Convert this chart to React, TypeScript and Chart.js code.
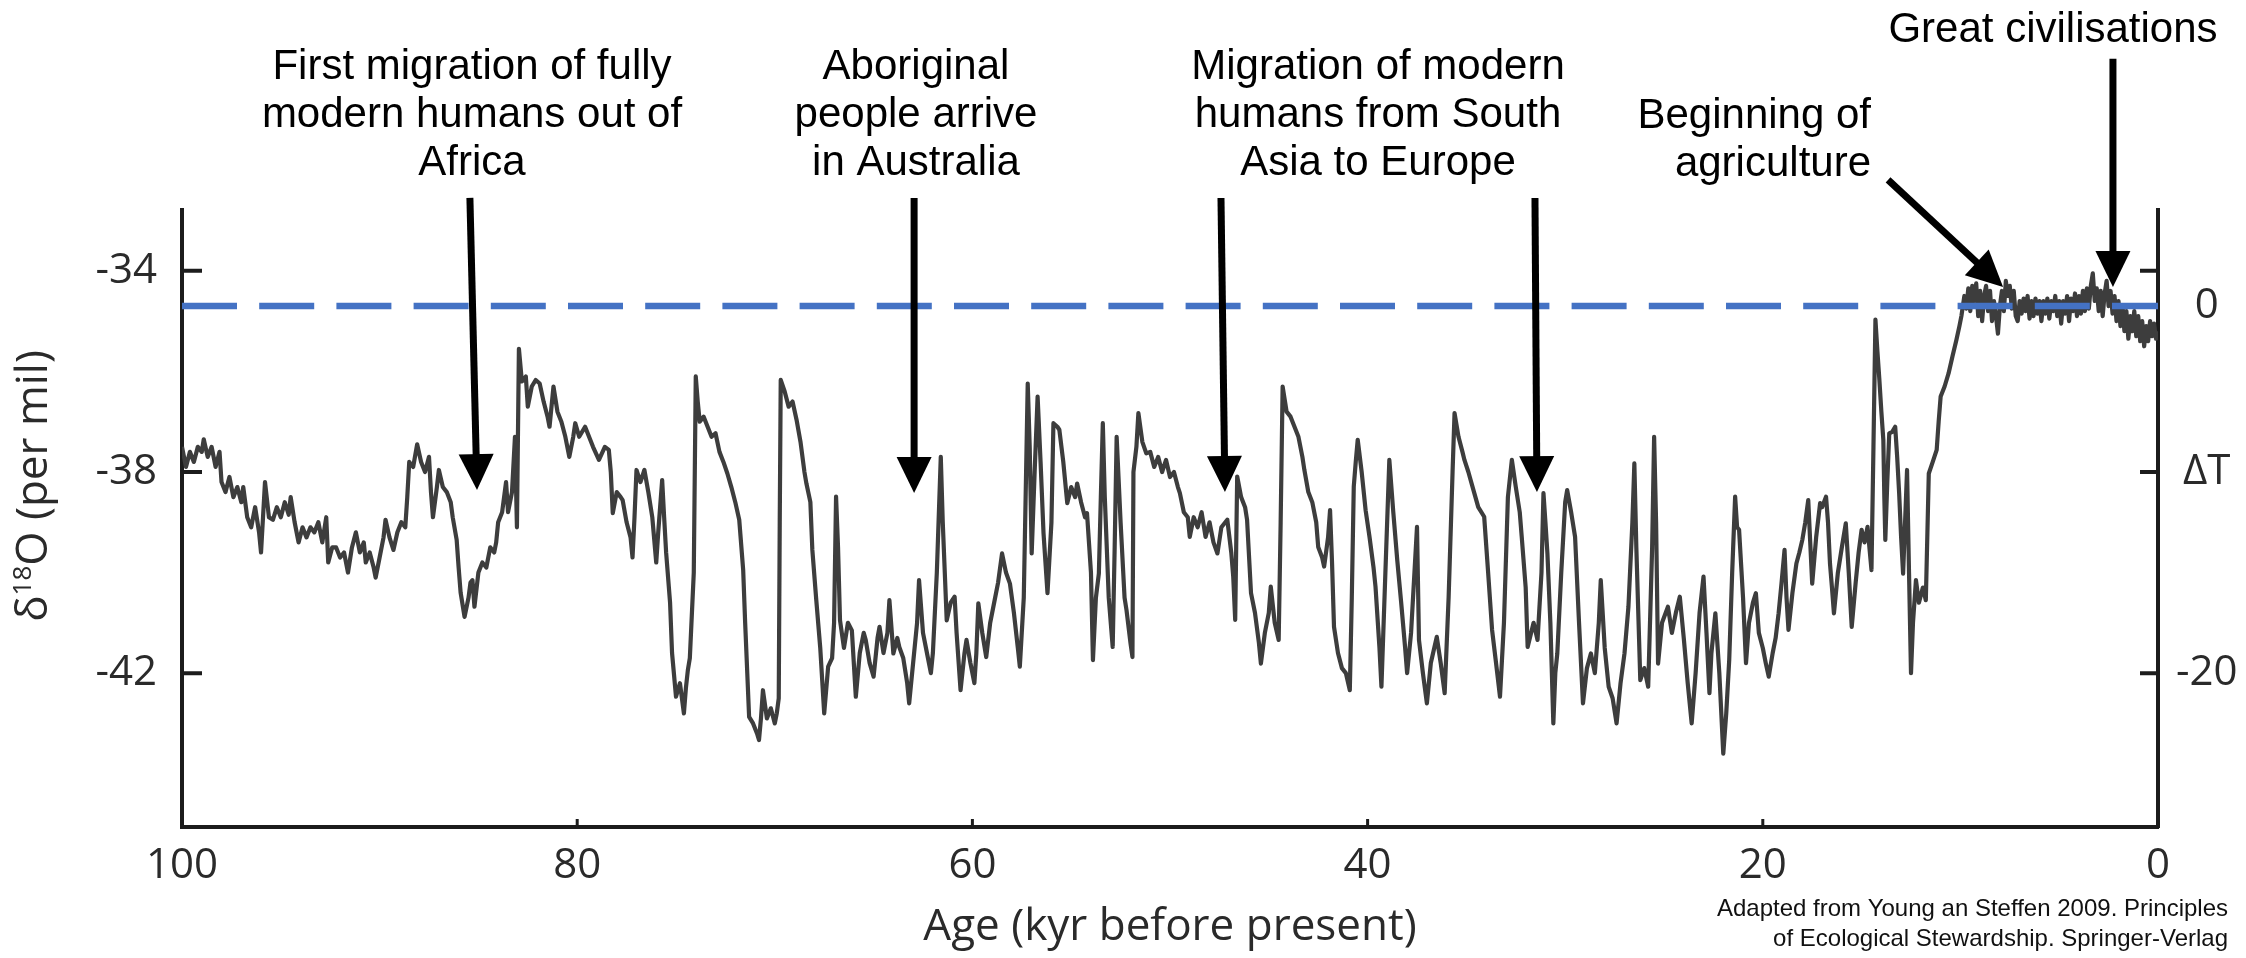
import React, { useEffect, useRef } from 'react';
import { Chart, registerables } from 'chart.js';

Chart.register(...registerables);

// ---------------- data (age in kyr before present, δ18O in per mil) ----------------
const record100to74: [number, number][] = [
  [100.0, -37.5], [99.8, -37.9], [99.6, -37.6], [99.4, -37.8], [99.2, -37.5], [99.0, -37.6],
  [98.9, -37.35], [98.7, -37.7], [98.5, -37.5], [98.3, -37.9], [98.1, -37.6], [98.0, -38.2],
  [97.8, -38.4], [97.6, -38.1], [97.4, -38.5], [97.2, -38.3], [97.0, -38.6], [96.9, -38.3],
  [96.7, -38.9], [96.5, -39.1], [96.3, -38.7], [96.1, -39.2], [96.0, -39.6], [95.9, -38.9],
  [95.8, -38.2], [95.6, -38.9], [95.4, -38.95], [95.2, -38.7], [95.0, -38.9], [94.8, -38.6],
  [94.6, -38.85], [94.5, -38.5], [94.3, -39.0], [94.1, -39.4], [93.9, -39.1], [93.7, -39.3],
  [93.5, -39.1], [93.3, -39.2], [93.1, -39.0], [92.9, -39.4], [92.7, -38.9], [92.6, -39.8],
  [92.4, -39.5], [92.2, -39.5], [92.0, -39.7], [91.8, -39.6], [91.6, -40.0], [91.4, -39.5],
  [91.2, -39.2], [91.0, -39.6], [90.8, -39.4], [90.7, -39.8], [90.5, -39.6], [90.3, -39.9],
  [90.2, -40.1], [90.0, -39.7], [89.8, -39.3], [89.7, -38.95], [89.5, -39.3], [89.3, -39.55],
  [89.1, -39.2], [88.9, -39.0], [88.7, -39.1], [88.6, -38.5], [88.5, -37.8], [88.3, -37.9],
  [88.1, -37.45], [87.9, -37.8], [87.7, -38.0], [87.5, -37.7], [87.4, -38.4], [87.3, -38.9],
  [87.1, -38.3], [87.0, -37.96], [86.8, -38.3], [86.6, -38.4], [86.4, -38.6], [86.3, -38.9],
  [86.1, -39.35], [86.0, -39.9], [85.9, -40.4], [85.7, -40.88], [85.5, -40.5], [85.4, -40.2],
  [85.3, -40.15], [85.2, -40.68], [85.0, -40.0], [84.8, -39.8], [84.6, -39.9], [84.4, -39.5],
  [84.2, -39.6], [84.1, -39.4], [84.0, -39.0], [83.8, -38.8], [83.6, -38.2], [83.5, -38.8],
  [83.3, -38.4], [83.15, -37.3], [83.05, -39.1], [82.95, -35.55], [82.8, -36.2], [82.6, -36.1],
  [82.5, -36.7], [82.3, -36.3], [82.1, -36.17], [81.9, -36.24], [81.7, -36.6], [81.5, -36.9],
  [81.4, -37.1], [81.2, -36.3], [81.0, -36.8], [80.8, -37.0], [80.6, -37.3], [80.4, -37.7],
  [80.2, -37.3], [80.1, -37.03], [79.9, -37.3], [79.6, -37.1], [79.4, -37.3], [79.2, -37.5],
  [78.9, -37.76], [78.6, -37.5], [78.4, -37.56], [78.3, -38.0], [78.2, -38.82], [78.0, -38.4],
  [77.8, -38.5], [77.7, -38.56], [77.5, -39.0], [77.3, -39.3], [77.2, -39.7], [77.1, -38.9],
  [77.0, -37.96], [76.8, -38.2], [76.6, -37.96], [76.4, -38.4], [76.2, -38.9], [76.0, -39.8],
  [75.9, -39.2], [75.7, -38.16], [75.6, -38.9], [75.5, -39.6], [75.3, -40.6], [75.2, -41.6],
  [75.0, -42.47], [74.8, -42.2], [74.6, -42.8], [74.5, -42.3], [74.4, -41.94], [74.3, -41.7],
  [74.1, -40.0], [74.0, -36.1], [73.9, -36.6], [73.8, -37.0],
];

const record74to48: [number, number][] = [
  [73.6, -36.9], [73.4, -37.1], [73.2, -37.3], [73.0, -37.23], [72.8, -37.6], [72.6, -37.8],
  [72.4, -38.03], [72.2, -38.3], [72.0, -38.6], [71.8, -38.95], [71.6, -39.95], [71.5, -41.0],
  [71.3, -42.87], [71.1, -43.0], [70.9, -43.2], [70.8, -43.33], [70.7, -42.9], [70.6, -42.34],
  [70.4, -42.9], [70.2, -42.7], [70.0, -43.0], [69.9, -42.8], [69.8, -42.5], [69.75, -39.0],
  [69.7, -36.17], [69.5, -36.4], [69.3, -36.7], [69.1, -36.6], [68.9, -36.96], [68.7, -37.4],
  [68.5, -38.0], [68.4, -38.23], [68.2, -38.6], [68.1, -39.55], [67.9, -40.55], [67.7, -41.5],
  [67.5, -42.8], [67.3, -41.87], [67.1, -41.7], [67.0, -41.0], [66.9, -38.49], [66.8, -39.5],
  [66.7, -40.95], [66.5, -41.5], [66.3, -41.0], [66.1, -41.15], [65.9, -42.47], [65.7, -41.6],
  [65.5, -41.2], [65.4, -41.34], [65.2, -41.8], [65.0, -42.07], [64.8, -41.3], [64.7, -41.08],
  [64.5, -41.6], [64.3, -41.2], [64.2, -40.55], [64.0, -41.61], [63.8, -41.3], [63.7, -41.48],
  [63.5, -41.7], [63.3, -42.2], [63.2, -42.6], [63.0, -41.8], [62.8, -41.0], [62.7, -40.15],
  [62.5, -41.2], [62.3, -41.6], [62.1, -42.0], [62.0, -41.6], [61.8, -40.0], [61.6, -37.7],
  [61.5, -39.0], [61.3, -40.95], [61.1, -40.6], [60.9, -40.48], [60.8, -41.2], [60.6, -42.34],
  [60.4, -41.6], [60.3, -41.34], [60.1, -41.8], [59.9, -42.2], [59.8, -41.6], [59.7, -40.61],
  [59.5, -41.2], [59.3, -41.68], [59.1, -41.0], [58.9, -40.6], [58.7, -40.2], [58.5, -39.62],
  [58.3, -40.0], [58.1, -40.22], [57.9, -40.8], [57.7, -41.5], [57.6, -41.87], [57.4, -40.5],
  [57.2, -36.24], [57.1, -37.5], [57.0, -39.62], [56.85, -38.0], [56.7, -36.5], [56.55, -37.8],
  [56.4, -39.22], [56.2, -40.41], [56.0, -39.0], [55.9, -37.03], [55.7, -37.1], [55.6, -37.16],
  [55.4, -37.8], [55.2, -38.62], [55.0, -38.3], [54.8, -38.5], [54.7, -38.23], [54.5, -38.6],
  [54.3, -38.9], [54.2, -38.82], [54.0, -40.0], [53.9, -41.74], [53.75, -40.5], [53.6, -40.02],
  [53.5, -38.5], [53.4, -37.03], [53.3, -38.5], [53.1, -40.5], [52.9, -41.48], [52.8, -39.5],
  [52.7, -37.3], [52.5, -39.0], [52.3, -40.5], [52.2, -40.75], [52.0, -41.4], [51.9, -41.68],
  [51.85, -38.0], [51.7, -37.5], [51.6, -36.83], [51.4, -37.4], [51.2, -37.63], [51.0, -37.6],
  [50.8, -37.9], [50.6, -37.7], [50.4, -38.0], [50.2, -37.76], [50.0, -38.1], [49.8, -38.0],
  [49.6, -38.3], [49.5, -38.42], [49.3, -38.8], [49.1, -38.9], [49.0, -39.29], [48.8, -38.9],
  [48.6, -39.1], [48.4, -38.8], [48.2, -39.29], [48.0, -39.0], [47.8, -39.4], [47.6, -39.62],
];

const record48to21: [number, number][] = [
  [47.4, -39.1], [47.2, -39.0], [47.1, -38.95], [46.9, -39.6], [46.8, -40.08], [46.7, -40.94],
  [46.65, -39.5], [46.6, -38.09], [46.4, -38.5], [46.2, -38.7], [46.1, -38.95], [45.9, -40.41],
  [45.7, -40.8], [45.5, -41.4], [45.4, -41.81], [45.2, -41.2], [45.0, -40.8], [44.9, -40.28],
  [44.7, -41.0], [44.5, -41.34], [44.4, -39.0], [44.3, -36.3], [44.1, -36.8], [43.9, -36.9],
  [43.7, -37.1], [43.5, -37.3], [43.3, -37.7], [43.2, -37.96], [43.0, -38.4], [42.8, -38.6],
  [42.6, -39.0], [42.5, -39.49], [42.3, -39.7], [42.2, -39.88], [42.0, -39.3], [41.9, -38.76],
  [41.8, -39.8], [41.7, -41.08], [41.5, -41.6], [41.3, -41.9], [41.1, -42.0], [40.9, -42.34],
  [40.8, -40.5], [40.7, -38.29], [40.6, -37.8], [40.5, -37.36], [40.3, -38.0], [40.1, -38.76],
  [39.9, -39.3], [39.7, -39.9], [39.6, -40.28], [39.4, -41.5], [39.3, -42.27], [39.1, -40.0],
  [38.9, -37.76], [38.7, -38.8], [38.5, -39.75], [38.3, -40.6], [38.1, -41.5], [38.0, -42.0],
  [37.8, -41.2], [37.5, -39.09], [37.4, -41.34], [37.2, -42.0], [37.0, -42.6], [36.8, -41.8],
  [36.5, -41.28], [36.3, -41.8], [36.1, -42.4], [35.9, -40.5], [35.7, -38.0], [35.6, -36.83],
  [35.4, -37.3], [35.2, -37.6], [35.1, -37.76], [34.9, -38.0], [34.6, -38.42], [34.4, -38.7],
  [34.1, -38.89], [33.9, -40.0], [33.7, -41.14], [33.5, -41.8], [33.3, -42.47], [33.1, -41.0],
  [32.9, -38.5], [32.7, -37.76], [32.5, -38.3], [32.3, -38.8], [32.2, -39.29], [32.0, -40.3],
  [31.9, -41.48], [31.6, -41.0], [31.4, -41.34], [31.2, -40.0], [31.1, -38.42], [31.0, -39.0],
  [30.9, -39.62], [30.75, -41.0], [30.6, -43.0], [30.5, -42.0], [30.4, -41.61], [30.2, -40.0],
  [30.0, -38.6], [29.9, -38.36], [29.7, -38.8], [29.5, -39.29], [29.3, -41.0], [29.1, -42.6],
  [28.9, -41.9], [28.7, -41.61], [28.5, -42.0], [28.3, -41.0], [28.2, -40.15], [28.0, -41.5],
  [27.8, -42.27], [27.6, -42.5], [27.4, -43.0], [27.2, -42.2], [27.0, -41.61], [26.8, -40.68],
  [26.6, -39.0], [26.5, -37.83], [26.4, -39.5], [26.2, -42.14], [26.0, -41.9], [25.8, -42.27],
  [25.6, -39.5], [25.5, -37.3], [25.4, -39.0], [25.3, -41.81], [25.1, -41.0], [24.8, -40.68],
  [24.6, -41.2], [24.4, -40.8], [24.2, -40.48], [24.0, -41.3], [23.8, -42.2], [23.6, -43.0],
  [23.4, -42.0], [23.2, -40.8], [23.0, -40.08], [22.85, -41.2], [22.7, -42.4], [22.6, -41.6],
  [22.4, -40.81], [22.2, -42.0], [22.0, -43.6], [21.85, -42.8], [21.7, -41.74], [21.55, -40.0],
  [21.4, -38.49],
];

const record21to10: [number, number][] = [
  [21.3, -39.1], [21.2, -39.15], [21.0, -40.5], [20.85, -41.8], [20.7, -41.0], [20.5, -40.6],
  [20.35, -40.41], [20.2, -41.2], [20.0, -41.5], [19.85, -41.8], [19.7, -42.07], [19.5, -41.6],
  [19.35, -41.3], [19.2, -40.81], [19.05, -40.2], [18.9, -39.55], [18.8, -40.5], [18.7, -41.14],
  [18.5, -40.4], [18.3, -39.82], [18.15, -39.6], [18.0, -39.35], [17.85, -39.0], [17.7, -38.56],
  [17.6, -39.4], [17.5, -40.22], [17.3, -39.3], [17.1, -38.62], [17.0, -38.7], [16.8, -38.49],
  [16.7, -39.0], [16.6, -39.82], [16.5, -40.3], [16.4, -40.81], [16.2, -40.0], [16.0, -39.5],
  [15.8, -39.02], [15.65, -40.0], [15.5, -41.08], [15.3, -40.2], [15.15, -39.6], [15.0, -39.15],
  [14.85, -39.4], [14.7, -39.09], [14.5, -39.95], [14.4, -37.5], [14.3, -34.97], [14.2, -35.6],
  [14.1, -36.17], [14.0, -36.8], [13.9, -37.36], [13.85, -38.5], [13.8, -39.35], [13.7, -38.2],
  [13.6, -37.23], [13.45, -37.2], [13.3, -37.1], [13.2, -37.7], [13.1, -38.42], [13.0, -39.3],
  [12.9, -40.02], [12.8, -39.0], [12.7, -37.96], [12.6, -40.0], [12.5, -42.0], [12.4, -41.0],
  [12.25, -40.15], [12.1, -40.6], [11.9, -40.3], [11.75, -40.55], [11.6, -38.03], [11.4, -37.8],
  [11.2, -37.56], [11.1, -37.0], [11.0, -36.5], [10.8, -36.3], [10.6, -36.04], [10.4, -35.7],
  [10.2, -35.37], [10.05, -35.1],
];

const holocene: [number, number][] = [
  [9.95, -34.9], [9.8, -34.5], [9.7, -34.75], [9.6, -34.35], [9.5, -34.8], [9.4, -34.3],
  [9.3, -34.6], [9.2, -34.25], [9.1, -34.9], [9.0, -34.4], [8.9, -35.0], [8.8, -34.5],
  [8.7, -34.3], [8.6, -34.8], [8.5, -34.4], [8.4, -35.0], [8.3, -34.6], [8.2, -34.9],
  [8.1, -35.25], [8.0, -34.7], [7.9, -34.4], [7.8, -34.8], [7.7, -34.2], [7.6, -34.5],
  [7.5, -34.3], [7.4, -34.75], [7.3, -34.4], [7.2, -34.9], [7.1, -35.0], [7.0, -34.6],
  [6.9, -34.85], [6.8, -34.55], [6.7, -34.8], [6.6, -34.5], [6.5, -34.95], [6.4, -34.6],
  [6.3, -34.9], [6.2, -34.55], [6.1, -34.85], [6.0, -34.6], [5.9, -35.0], [5.8, -34.6],
  [5.7, -34.85], [5.6, -34.55], [5.5, -34.95], [5.4, -34.6], [5.3, -34.8], [5.2, -34.5],
  [5.1, -34.9], [5.0, -34.6], [4.9, -35.05], [4.8, -34.6], [4.7, -34.85], [4.6, -34.5],
  [4.5, -35.0], [4.4, -34.55], [4.3, -34.8], [4.2, -34.45], [4.1, -34.9], [4.0, -34.5],
  [3.9, -34.85], [3.8, -34.4], [3.7, -34.8], [3.6, -34.35], [3.5, -34.75], [3.4, -34.3],
  [3.3, -34.05], [3.2, -34.6], [3.1, -34.35], [3.0, -34.8], [2.9, -34.4], [2.8, -34.9],
  [2.7, -34.45], [2.6, -34.2], [2.5, -34.7], [2.4, -34.4], [2.3, -34.85], [2.2, -34.5],
  [2.1, -35.0], [2.0, -34.6], [1.9, -35.1], [1.8, -34.7], [1.7, -35.2], [1.6, -34.8],
  [1.5, -35.35], [1.4, -34.9], [1.3, -35.2], [1.2, -34.8], [1.1, -35.3], [1.0, -34.9],
  [0.9, -35.4], [0.8, -35.0], [0.7, -35.5], [0.6, -35.1], [0.5, -35.4], [0.4, -35.0],
  [0.3, -35.3], [0.2, -35.05], [0.1, -35.35], [0.03, -35.2],
];

// ΔT = 0 reference level (per mil)
const zeroLevel = -34.7;

// axis ticks
const xTickValues = [100, 80, 60, 40, 20, 0];
const leftTickValues = [-34, -38, -42];
const rightTickValues = [-34, -34.7, -38, -42];
const rightTickLabels = ['', '0', 'ΔT', '-20'];

// event annotations: arrow tail / tip expressed as [age kyr, δ18O]
const eventLabels = [
  ['First migration of fully', 'modern humans out of', 'Africa'],
  ['Aboriginal', 'people arrive', 'in Australia'],
  ['Migration of modern', 'humans from South', 'Asia to Europe'],
  ['Beginning of', 'agriculture'],
  ['Great civilisations'],
];
const eventArrowFrom: [number, number][] = [
  [85.43, -32.55], [62.95, -32.55], [47.42, -32.55], [31.53, -32.55], [13.66, -32.19], [2.28, -29.78],
];
const eventArrowTo: [number, number][] = [
  [85.07, -38.36], [62.95, -38.42], [47.22, -38.4], [31.43, -38.4], [7.84, -34.32], [2.28, -34.32],
];
const creditLines = [
  'Adapted from Young an Steffen 2009. Principles',
  'of Ecological Stewardship. Springer-Verlag',
];

// ---------------- layout (pixels) ----------------
const W = 2246;
const H = 958;
const PLOT_LEFT = 182;
const PLOT_RIGHT = 2158;
const PLOT_TOP = 210;
const PLOT_BOTTOM = 827;
const TICK_FONT = 'Open Sans';
const NOTE_FONT = 'Liberation Sans';
const AXIS_COLOR = '#1c1c1c';
const TEXT_COLOR = '#2a2a2a';

// text placement for each event label block: [x, first baseline, align]
const labelLayout: [number, number, CanvasTextAlign][] = [
  [472, 79, 'center'],
  [916, 79, 'center'],
  [1378, 79, 'center'],
  [1871, 128, 'right'],
  [2053, 42, 'center'],
];

function drawArrow(ctx: CanvasRenderingContext2D, x0: number, y0: number, x1: number, y1: number) {
  const headLen = 36;
  const headW = 35;
  const ang = Math.atan2(y1 - y0, x1 - x0);
  const bx = x1 - headLen * Math.cos(ang);
  const by = y1 - headLen * Math.sin(ang);
  ctx.beginPath();
  ctx.moveTo(x0, y0);
  ctx.lineTo(bx + 2 * Math.cos(ang), by + 2 * Math.sin(ang));
  ctx.lineWidth = 7;
  ctx.lineCap = 'butt';
  ctx.stroke();
  ctx.beginPath();
  ctx.moveTo(x1, y1);
  ctx.lineTo(bx + (headW / 2) * Math.sin(ang), by - (headW / 2) * Math.cos(ang));
  ctx.lineTo(bx - (headW / 2) * Math.sin(ang), by + (headW / 2) * Math.cos(ang));
  ctx.closePath();
  ctx.fill();
}

const overlayPlugin = {
  id: 'overlay',
  afterDraw(chart: any) {
    const ctx: CanvasRenderingContext2D = chart.ctx;
    const xs = chart.scales.x;
    const ys = chart.scales.y;
    const area = chart.chartArea;
    ctx.save();

    // inward tick marks
    ctx.strokeStyle = AXIS_COLOR;
    ctx.lineWidth = 4;
    ys.ticks.forEach((t: any) => {
      const py = ys.getPixelForValue(t.value);
      ctx.beginPath();
      ctx.moveTo(area.left, py);
      ctx.lineTo(area.left + 20, py);
      ctx.moveTo(area.right, py);
      ctx.lineTo(area.right - 18, py);
      ctx.stroke();
    });
    ctx.lineWidth = 3;
    xs.ticks.forEach((t: any) => {
      const px = xs.getPixelForValue(t.value);
      if (px > area.left + 4 && px < area.right - 4) {
        ctx.beginPath();
        ctx.moveTo(px, area.bottom);
        ctx.lineTo(px, area.bottom - 8);
        ctx.stroke();
      }
    });

    // arrows
    ctx.strokeStyle = '#000';
    ctx.fillStyle = '#000';
    eventArrowFrom.forEach((from, i) => {
      const to = eventArrowTo[i];
      drawArrow(
        ctx,
        xs.getPixelForValue(from[0]), ys.getPixelForValue(from[1]),
        xs.getPixelForValue(to[0]), ys.getPixelForValue(to[1]),
      );
    });

    // event labels
    ctx.font = `42px "${NOTE_FONT}"`;
    ctx.textBaseline = 'alphabetic';
    ctx.fillStyle = '#000';
    eventLabels.forEach((lines, i) => {
      const [lx, ly, align] = labelLayout[i];
      ctx.textAlign = align;
      lines.forEach((line, j) => ctx.fillText(line, lx, ly + j * 48));
    });

    // credit
    ctx.font = `24px "${NOTE_FONT}"`;
    ctx.textAlign = 'right';
    ctx.fillStyle = '#111';
    creditLines.forEach((line, j) => ctx.fillText(line, 2228, 916 + j * 30));

    // y-axis title: δ18O (per mil), rotated
    const f = 44;
    const parts: [string, number, number][] = [
      ['δ', f, 0],
      ['18', Math.round(f * 0.6), -f * 0.36],
      ['O (per mil)', f, 0],
    ];
    ctx.translate(47, 486);
    ctx.rotate(-Math.PI / 2);
    ctx.fillStyle = TEXT_COLOR;
    ctx.textAlign = 'left';
    let total = 0;
    const widths = parts.map(([s, size]) => {
      ctx.font = `${size}px "${TICK_FONT}"`;
      const w = ctx.measureText(s).width;
      total += w;
      return w;
    });
    let cx = -total / 2;
    parts.forEach(([s, size, dy], k) => {
      ctx.font = `${size}px "${TICK_FONT}"`;
      ctx.fillText(s, cx, dy);
      cx += widths[k];
    });
    ctx.restore();
  },
};

export default function App() {
  const canvasRef = useRef<HTMLCanvasElement | null>(null);

  useEffect(() => {
    document.body.style.margin = '0';
    let chart: Chart | null = null;
    let cancelled = false;

    const series = [...record100to74, ...record74to48, ...record48to21, ...record21to10, ...holocene].map(
      ([age, v]) => ({ x: age, y: v }),
    );
    const zeroLine = [
      { x: 100, y: zeroLevel },
      { x: 0, y: zeroLevel },
    ];

    const make = () => {
      if (cancelled || !canvasRef.current) return;
      chart = new Chart(canvasRef.current, {
        type: 'line',
        data: {
          datasets: [
            {
              label: 'ΔT = 0',
              data: zeroLine,
              borderColor: '#4472C4',
              borderWidth: 6.5,
              borderDash: [55, 22.2],
              pointRadius: 0,
              order: 0,
              yAxisID: 'y',
            },
            {
              label: 'δ18O',
              data: series,
              borderColor: '#3d3d3d',
              borderWidth: 4.2,
              borderJoinStyle: 'round',
              pointRadius: 0,
              tension: 0,
              order: 1,
              yAxisID: 'y',
            },
            {
              label: 'reference',
              data: zeroLine,
              borderColor: '#a9a9a9',
              borderWidth: 4,
              borderDash: [30, 47],
              borderDashOffset: -12,
              pointRadius: 0,
              order: 2,
              yAxisID: 'y',
            },
          ],
        },
        options: {
          responsive: false,
          animation: false,
          devicePixelRatio: 1,
          layout: { padding: { top: PLOT_TOP, left: 0, right: 0, bottom: 0 } },
          plugins: {
            legend: { display: false },
            tooltip: { enabled: false },
          },
          scales: {
            x: {
              type: 'linear',
              position: 'bottom',
              reverse: true,
              min: 0,
              max: 100,
              afterBuildTicks: (s: any) => {
                s.ticks = xTickValues.map((v) => ({ value: v }));
              },
              afterFit: (s: any) => {
                s.height = H - PLOT_BOTTOM;
              },
              ticks: {
                font: { family: TICK_FONT, size: 42 },
                color: TEXT_COLOR,
                padding: 14,
                maxRotation: 0,
                autoSkip: false,
                callback: (v: any) => String(v),
              },
              grid: { display: false, drawTicks: false },
              border: { display: true, color: AXIS_COLOR, width: 4 },
              title: {
                display: true,
                text: 'Age (kyr before present)',
                font: { family: TICK_FONT, size: 44 },
                color: TEXT_COLOR,
                padding: { top: 0, bottom: 4 },
              },
            },
            y: {
              type: 'linear',
              position: 'left',
              min: -45.06,
              max: -32.79,
              afterBuildTicks: (s: any) => {
                s.ticks = leftTickValues.map((v) => ({ value: v }));
              },
              afterFit: (s: any) => {
                s.width = PLOT_LEFT;
              },
              ticks: {
                font: { family: TICK_FONT, size: 42 },
                color: TEXT_COLOR,
                padding: 25,
                autoSkip: false,
                callback: (v: any) => String(v),
              },
              grid: { display: false, drawTicks: false },
              border: { display: true, color: AXIS_COLOR, width: 4 },
            },
            y2: {
              type: 'linear',
              position: 'right',
              min: -45.06,
              max: -32.79,
              afterBuildTicks: (s: any) => {
                s.ticks = rightTickValues.map((v) => ({ value: v }));
              },
              afterFit: (s: any) => {
                s.width = W - PLOT_RIGHT;
              },
              ticks: {
                font: { family: TICK_FONT, size: 42 },
                color: TEXT_COLOR,
                padding: 18,
                autoSkip: false,
                crossAlign: 'center',
                callback: (v: any) => {
                  const i = rightTickValues.indexOf(Number(v));
                  return i >= 0 ? rightTickLabels[i] : '';
                },
              },
              grid: { display: false, drawTicks: false },
              border: { display: true, color: AXIS_COLOR, width: 4 },
            },
          },
        } as any,
        plugins: [overlayPlugin],
      });
    };

    const fontsReady = (document as any).fonts
      ? Promise.all([
          (document as any).fonts.load(`42px "${TICK_FONT}"`),
          (document as any).fonts.load(`42px "${NOTE_FONT}"`),
        ])
      : Promise.resolve();
    fontsReady.then(make, make);

    return () => {
      cancelled = true;
      if (chart) chart.destroy();
    };
  }, []);

  return (
    <div style={{ width: W, height: H, overflow: 'hidden', background: '#fff' }}>
      <canvas ref={canvasRef} width={W} height={H} style={{ display: 'block', width: W, height: H }} />
    </div>
  );
}
